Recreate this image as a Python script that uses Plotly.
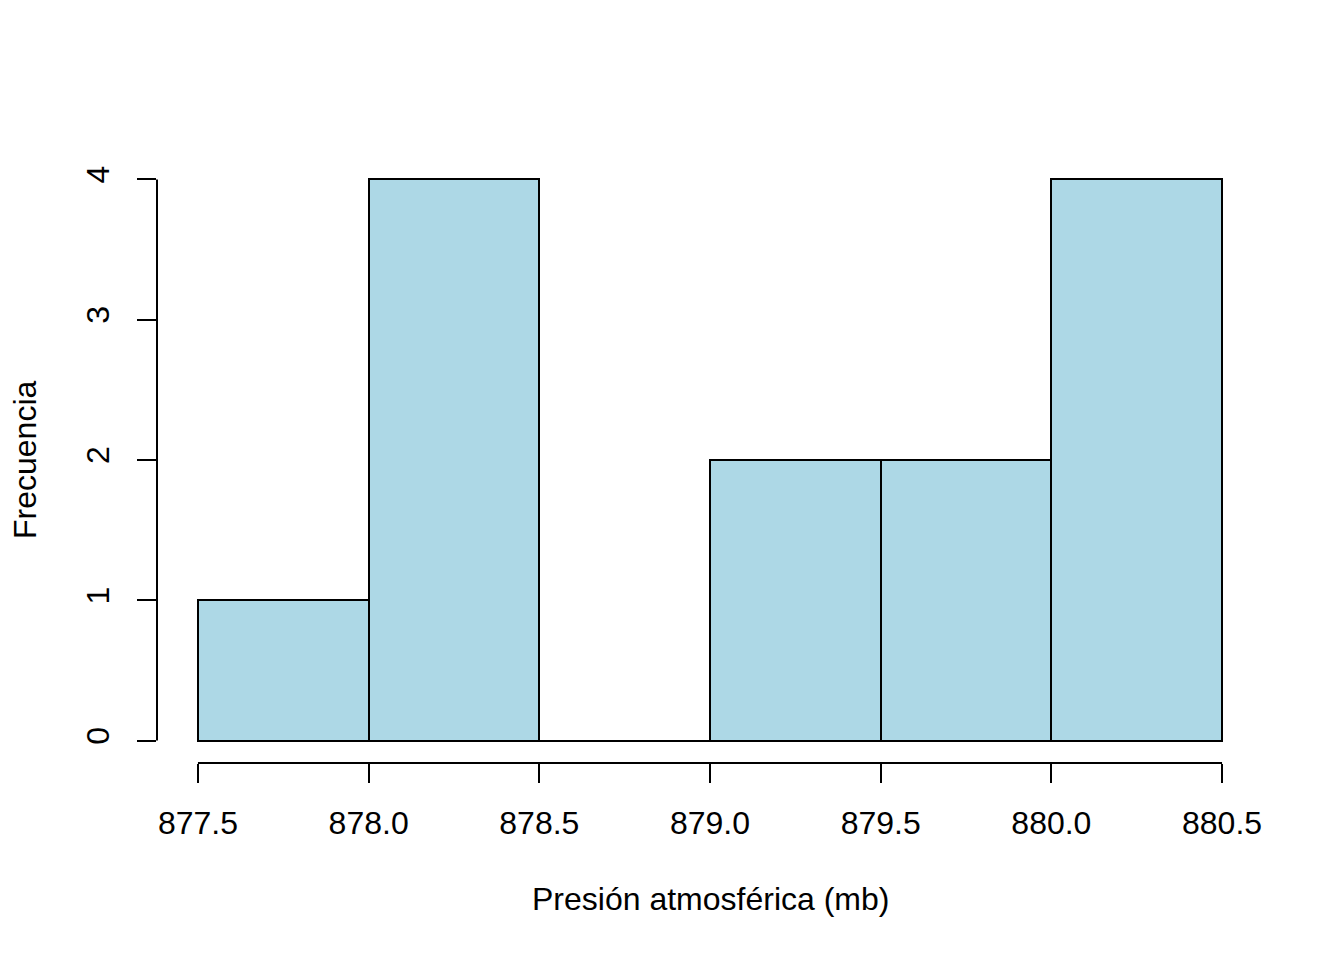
import plotly.graph_objects as go

bin_edges = [877.5, 878.0, 878.5, 879.0, 879.5, 880.0, 880.5]
counts = [1, 4, 0, 2, 2, 4]
x_ticks = [877.5, 878.0, 878.5, 879.0, 879.5, 880.0, 880.5]
x_tick_labels = ["877.5", "878.0", "878.5", "879.0", "879.5", "880.0", "880.5"]
y_ticks = [0, 1, 2, 3, 4]
x_title = "Presión atmosférica (mb)"
y_title = "Frecuencia"

centers = [(a + b) / 2 for a, b in zip(bin_edges[:-1], bin_edges[1:])]
widths = [b - a for a, b in zip(bin_edges[:-1], bin_edges[1:])]

FONT = "Liberation Sans, Arial, sans-serif"
FS = 32
OFF = 8  # default page body margin
W, H = 1344 - OFF, 960 - OFF
L, T = 157 - OFF, 156.5 - OFF
PW, PH = 1106, 607
R = W - L - PW
B = H - T - PH

fig = go.Figure()
fig.add_trace(go.Bar(
    x=centers, y=counts, width=widths,
    marker=dict(color="#ADD8E6", line=dict(color="black", width=2)),
    hoverinfo="x+y",
))

span = bin_edges[-1] - bin_edges[0]
xr = [bin_edges[0] - 0.04 * span, bin_edges[-1] + 0.04 * span]
ymax = max(counts)
yr = [-0.04 * ymax, ymax * 1.04]

fig.update_layout(
    width=W, height=H,
    margin=dict(l=L, r=R, t=T, b=B, pad=0),
    plot_bgcolor="white", paper_bgcolor="white",
    showlegend=False, bargap=0,
    font=dict(family=FONT, size=FS, color="black"),
    xaxis=dict(range=xr, tickvals=x_ticks, ticktext=x_tick_labels, ticks="outside",
               ticklen=19, tickwidth=2, tickcolor="black", showgrid=False, zeroline=False,
               showline=False, ticklabelstandoff=13, tickfont=dict(size=FS)),
    yaxis=dict(range=yr, tickvals=y_ticks, ticks="outside", ticklen=19, tickwidth=2,
               tickcolor="black", showgrid=False, zeroline=False, showline=False,
               tickangle=-90, ticklabelstandoff=15, tickfont=dict(size=FS)),
)

# axis lines spanning tick range only (R style)
fig.add_shape(type="line", xref="x", yref="paper", x0=x_ticks[0], x1=x_ticks[-1], y0=0, y1=0,
              line=dict(color="black", width=2))
fig.add_shape(type="line", xref="paper", yref="y", x0=0, x1=0, y0=y_ticks[0], y1=y_ticks[-1],
              line=dict(color="black", width=2))

fig.add_annotation(text=x_title, xref="paper", yref="paper", x=0.5,
                   y=(H - B - (900 - OFF)) / PH,
                   xanchor="center", yanchor="middle", showarrow=False, font=dict(size=FS))
fig.add_annotation(text=y_title, xref="paper", yref="paper", x=((25 - OFF) - L) / PW, y=0.5,
                   xanchor="center", yanchor="middle", textangle=-90, showarrow=False,
                   font=dict(size=FS))

fig.write_html("out.html")
